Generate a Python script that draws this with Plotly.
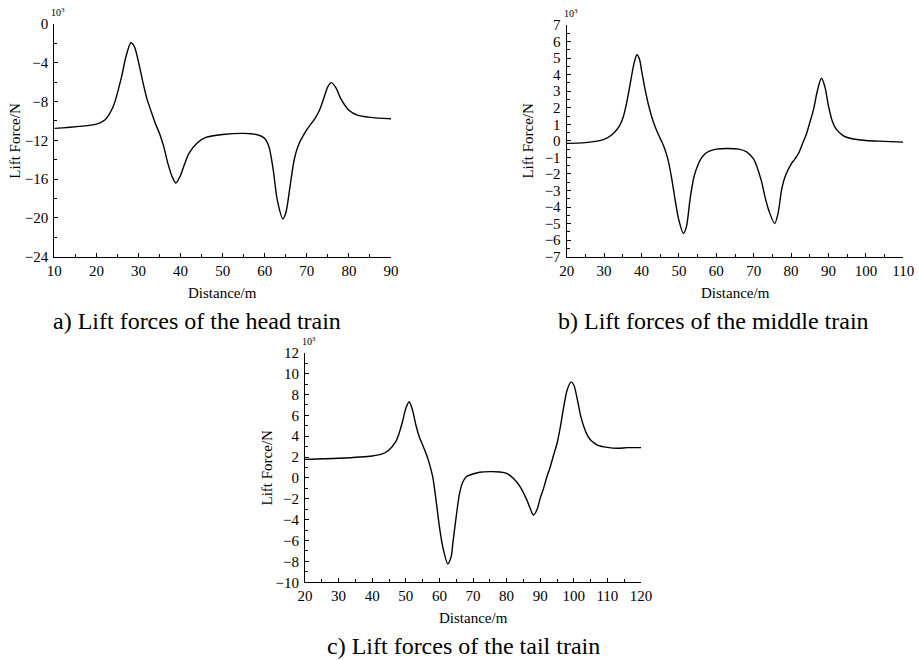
import plotly.graph_objects as go

# ---- data (values in 10^3 N) ----
head_x = [10, 20, 22, 24, 26, 27, 28.2, 29, 30, 31, 32, 33, 34, 35, 36, 37, 38, 38.9, 40, 41, 42, 44, 46, 50, 55, 58, 60, 61, 62, 63, 64.3, 65, 66, 67, 68, 70, 72, 73, 74, 75, 75.8, 77, 78, 80, 82, 85, 90]
head_y = [-10.76, -10.32, -9.9, -8.5, -5.4, -3.4, -1.93, -2.3, -3.9, -5.9, -7.7, -9.0, -10.25, -11.3, -12.65, -14.4, -15.75, -16.4, -15.6, -14.4, -13.35, -12.25, -11.7, -11.4, -11.28, -11.4, -11.8, -12.65, -15.0, -18.2, -20.1, -19.5, -16.8, -14.0, -12.5, -10.9, -9.7, -8.9, -7.7, -6.45, -6.05, -6.65, -7.65, -8.9, -9.4, -9.63, -9.77]

mid_x = [20, 25, 30, 32, 34, 35, 36, 37, 38, 38.8, 39.5, 40, 41, 42, 43, 44, 45, 46, 47, 48, 49, 50, 51.2, 52, 53, 54, 55, 56, 57, 58, 60, 63, 66, 68, 70, 72, 73, 74, 75.6, 76.5, 77.5, 78.5, 80, 81, 82, 83, 84, 85, 86, 87, 88.1, 89, 90, 91, 92, 94, 96, 100, 105, 110]
mid_y = [-0.15, -0.11, 0.09, 0.35, 0.86, 1.36, 2.27, 3.47, 4.68, 5.2, 4.9, 4.28, 3.07, 2.06, 1.26, 0.65, 0.15, -0.35, -1.06, -2.17, -3.58, -4.8, -5.6, -5.2, -3.5, -2.2, -1.5, -1.05, -0.78, -0.63, -0.5, -0.46, -0.5, -0.65, -1.1, -2.37, -3.37, -4.18, -5.0, -4.4, -2.9, -2.1, -1.4, -1.1, -0.75, -0.2, 0.35, 1.1, 1.9, 3.0, 3.78, 3.3, 2.1, 1.2, 0.72, 0.3, 0.14, 0.02, -0.03, -0.08]

tail_x = [20, 30, 40, 43, 45, 47, 48, 49, 50, 51, 52, 53, 54, 55, 56, 57, 58, 59, 60, 61, 62.5, 63.5, 64, 65, 66, 67, 68, 70, 72, 75, 78, 80, 82, 84, 86, 87, 88, 89, 90, 91, 92, 93, 94, 95, 96, 97, 98, 99.2, 100, 101, 102, 103, 104, 105, 107, 110, 113, 116, 120]
tail_y = [1.78, 1.88, 2.1, 2.3, 2.68, 3.47, 4.27, 5.38, 6.66, 7.3, 6.5, 5.07, 3.95, 3.15, 2.36, 1.4, 0.12, -2.12, -4.67, -6.6, -8.22, -7.55, -6.27, -3.7, -1.47, -0.36, 0.12, 0.38, 0.54, 0.6, 0.57, 0.44, -0.04, -0.84, -2.1, -2.9, -3.55, -3.07, -1.95, -1.0, 0.12, 1.08, 2.2, 3.3, 4.9, 6.8, 8.4, 9.2, 8.9, 7.6, 6.0, 4.9, 4.1, 3.63, 3.15, 2.93, 2.84, 2.9, 2.9]

captions = ["a) Lift forces of the head train", "b) Lift forces of the middle train", "c) Lift forces of the tail train"]
x_title = "Distance/m"
y_title = "Lift Force/N"

W, H = 919, 660
FONT = "Liberation Serif"

# plot areas in pixels: (left, right, top, bottom)
boxes = [(54.3, 391, 24, 256.7), (566.7, 903.3, 25, 256.7), (305, 641, 352.7, 582.3)]
xranges = [[10, 90], [20, 110], [20, 120]]
yranges = [[-24, 0], [-7, 7], [-10, 12]]
ydticks = [4, 1, 2]
series = [(head_x, head_y), (mid_x, mid_y), (tail_x, tail_y)]

fig = go.Figure()
annotations = []
for i, (box, xr, yr, dy, (sx, sy)) in enumerate(zip(boxes, xranges, yranges, ydticks, series)):
    l, r, t, b = box
    sfx = "" if i == 0 else str(i + 1)
    fig.add_trace(go.Scatter(x=sx, y=sy, mode="lines",
                             line=dict(color="black", width=1.4, shape="spline", smoothing=0.8),
                             xaxis="x" + sfx, yaxis="y" + sfx, showlegend=False))
    common = dict(showline=True, linecolor="black", linewidth=1.2, showgrid=False, zeroline=False,
                  automargin=False,
                  ticks="inside", ticklen=4, tickwidth=1, tickcolor="black",
                  tickfont=dict(family=FONT, size=15, color="black"))
    fig.update_layout(**{
        "xaxis" + sfx: dict(domain=[l / W, r / W], range=xr, anchor="y" + sfx, dtick=10, tick0=0,
                            minor=dict(ticks="inside", ticklen=3, dtick=5, tick0=0, tickcolor="black"),
                            **common),
        "yaxis" + sfx: dict(domain=[1 - b / H, 1 - t / H], range=yr, anchor="x" + sfx, dtick=dy, tick0=0,
                            minor=dict(ticks="inside", ticklen=3, dtick=dy / 2, tick0=0, tickcolor="black"),
                            ticklabelstandoff=2, **common),
    })
    # 10^3 multiplier
    annotations.append(dict(x=(l - 5) / W, y=1 - (t - 4) / H, xref="paper", yref="paper",
                            text="10<sup>3</sup>", showarrow=False, xanchor="left", yanchor="bottom",
                            font=dict(family=FONT, size=10, color="black")))
    # x title
    annotations.append(dict(x=(l + r) / 2 / W, y=1 - (b + 36) / H, xref="paper", yref="paper",
                            text=x_title, showarrow=False, xanchor="center", yanchor="middle",
                            font=dict(family=FONT, size=15, color="black")))
    # y title
    annotations.append(dict(x=(l - 39) / W, y=1 - (t + b) / 2 / H, xref="paper", yref="paper",
                            text=y_title, showarrow=False, xanchor="center", yanchor="middle", textangle=-90,
                            font=dict(family=FONT, size=15, color="black")))

cap_pos = [(197, 321), (713, 321), (463, 646)]
for cap, (cx, cy) in zip(captions, cap_pos):
    annotations.append(dict(x=cx / W, y=1 - cy / H, xref="paper", yref="paper", text=cap,
                            showarrow=False, xanchor="center", yanchor="middle",
                            font=dict(family=FONT, size=24, color="black")))

fig.update_layout(width=W, height=H, margin=dict(l=0, r=0, t=0, b=0),
                  paper_bgcolor="white", plot_bgcolor="white", annotations=annotations,
                  font=dict(family=FONT, color="black"))

fig.write_html("out.html")
